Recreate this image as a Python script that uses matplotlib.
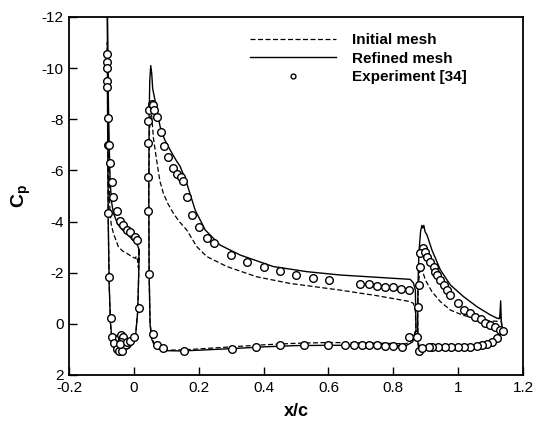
import matplotlib
matplotlib.use('Agg')
import matplotlib.pyplot as plt

plt.rcParams['font.family'] = ['Liberation Sans', 'DejaVu Sans']
plt.rcParams['mathtext.fontset'] = 'custom'
plt.rcParams['mathtext.rm'] = 'Liberation Sans'
plt.rcParams['mathtext.bf'] = 'Liberation Sans:bold'

# ---- computed Cp, initial mesh (dashed) ----
slat_x_init = [0.016, 0.014, 0.011, 0.008, 0.004, -0.005, -0.022, -0.035, -0.048, -0.063, -0.070,
               -0.074, -0.077, -0.079, -0.082, -0.081, -0.079, -0.076, -0.072, -0.066, -0.058,
               -0.045, -0.030, -0.015, -0.005, 0.005, 0.012, 0.015, 0.016]
slat_cp_init = [-2.9, -2.2, -2.5, -2.65, -2.56, -2.62, -2.76, -2.85, -3.02, -3.54, -3.9,
                -4.5, -6.0, -8.0, -11.0, -8.0, -4.0, -1.5, 0.0, 0.8, 1.0,
                1.05, 1.02, 0.95, 0.8, 0.5, -0.5, -2.0, -2.9]

main_x_init = [0.870, 0.868, 0.86, 0.84, 0.7, 0.6, 0.5, 0.4, 0.3, 0.2, 0.15, 0.1, 0.08, 0.065,
               0.055, 0.05, 0.047, 0.046, 0.048, 0.052, 0.056, 0.06, 0.07, 0.08, 0.091, 0.105,
               0.122, 0.14, 0.163, 0.194, 0.225, 0.287, 0.379, 0.482, 0.636, 0.75, 0.852,
               0.862, 0.868, 0.870]
main_cp_init = [0.3, 0.3, 0.6, 0.78, 0.74, 0.73, 0.76, 0.82, 0.9, 0.98, 1.02, 1.03, 0.98, 0.85,
                0.5, 0.0, -2.0, -5.0, -7.5, -8.5, -8.0, -7.3, -6.41, -5.6, -5.1, -4.7,
                -4.32, -4.0, -3.67, -3.02, -2.63, -2.24, -1.84, -1.58, -1.32, -1.1, -0.87,
                -0.8, -0.5, 0.3]

flap_x_init = [1.137, 1.12, 1.1, 1.05, 1.0, 0.95, 0.9, 0.88, 0.876, 0.875, 0.877, 0.882, 0.887,
               0.889, 0.899, 0.919, 0.945, 0.976, 1.012, 1.048, 1.089, 1.12, 1.13, 1.137]
flap_cp_init = [0.24, 0.5, 0.68, 0.85, 0.9, 0.93, 0.96, 1.0, 0.5, -0.5, -1.5, -2.1, -2.25,
                -2.11, -1.71, -1.26, -0.87, -0.54, -0.35, -0.22, -0.12, -0.1, -0.3, 0.24]

# ---- computed Cp, refined mesh (solid) ----
slat_x_ref = [0.016, 0.012, 0.005, -0.005, -0.02, -0.035, -0.05, -0.063, -0.068, -0.073, -0.076,
              -0.079, -0.082, -0.081, -0.079, -0.076, -0.072, -0.066, -0.058, -0.045, -0.030,
              -0.015, -0.005, 0.005, 0.012, 0.015, 0.016]
slat_cp_ref = [-2.9, -3.05, -3.2, -3.3, -3.5, -3.67, -3.9, -4.33, -4.7, -5.5, -7.0,
               -9.0, -13.0, -8.0, -4.0, -1.5, 0.0, 0.8, 1.0, 1.05, 1.02,
               0.95, 0.8, 0.5, -0.5, -2.0, -2.9]

main_x_ref = [0.870, 0.868, 0.86, 0.84, 0.7, 0.6, 0.5, 0.4, 0.3, 0.2, 0.15, 0.1, 0.08, 0.065,
              0.055, 0.05, 0.047, 0.046, 0.047, 0.049, 0.052, 0.055, 0.058, 0.065, 0.081, 0.095,
              0.112, 0.13, 0.143, 0.163, 0.189, 0.22, 0.266, 0.328, 0.43, 0.534, 0.636, 0.75,
              0.852, 0.862, 0.868, 0.870]
main_cp_ref = [0.3, 0.3, 0.7, 0.85, 0.84, 0.84, 0.85, 0.9, 0.97, 1.03, 1.06, 1.05, 1.0, 0.9,
               0.6, 0.0, -2.0, -5.0, -8.0, -9.5, -10.1, -9.8, -9.2, -8.75, -7.71, -7.2,
               -6.8, -6.4, -6.15, -5.5, -4.45, -3.67, -3.08, -2.69, -2.24, -2.04, -1.91, -1.82,
               -1.74, -1.6, -1.32, 0.3]

flap_x_ref = [1.137, 1.13, 1.12, 1.1, 1.08, 1.05, 1.0, 0.95, 0.91, 0.89, 0.88, 0.876, 0.875,
              0.876, 0.879, 0.884, 0.888, 0.891, 0.894, 0.898, 0.904, 0.919, 0.945, 0.976,
              1.017, 1.058, 1.099, 1.12, 1.128, 1.131, 1.133, 1.137]
flap_cp_ref = [0.24, 0.4, 0.55, 0.72, 0.8, 0.87, 0.92, 0.95, 0.97, 1.0, 1.05, 0.8, 0.0,
               -1.5, -2.8, -3.6, -3.85, -3.75, -3.85, -3.6, -3.47, -2.89, -2.11, -1.52,
               -1.06, -0.67, -0.35, -0.22, -0.2, -0.9, -0.1, 0.24]

# ---- experiment [34] ----
exp_x = [-0.082, -0.082, -0.082, -0.082, -0.082, -0.079, -0.079, -0.076, -0.074, -0.068,
         -0.063, -0.053, -0.043, -0.032, -0.022, -0.012, 0.004, 0.011,
         -0.081, -0.076, -0.070, -0.066, -0.060, -0.053, -0.045, -0.036,
         -0.045, -0.040, -0.037, -0.035, -0.039, -0.042, -0.022, -0.012, 0.001, 0.015,
         0.045, 0.048, 0.055, 0.060, 0.063, 0.070, 0.045, 0.045, 0.045, 0.048, 0.058,
         0.070, 0.091, 0.084, 0.093, 0.106, 0.122, 0.132, 0.145, 0.153, 0.165, 0.179,
         0.201, 0.227, 0.248, 0.300, 0.350, 0.402, 0.451, 0.501, 0.551, 0.602, 0.698,
         0.724, 0.750, 0.775, 0.799, 0.825, 0.849,
         0.155, 0.302, 0.377, 0.451, 0.525, 0.600, 0.652, 0.678, 0.703, 0.726, 0.750,
         0.775, 0.800, 0.827, 0.849,
         0.890, 0.883, 0.881, 0.880, 0.876, 0.873, 0.878, 0.899,
         0.904, 0.914, 0.924, 0.930, 0.935, 0.945, 0.955, 0.966, 0.976, 0.999, 1.019,
         1.038, 1.053, 1.069, 1.084, 1.099, 1.115, 1.130, 1.137,
         1.120, 1.105, 1.090, 1.074, 1.059, 1.038, 1.019, 0.999, 0.979, 0.959, 0.939,
         0.919, 0.909, 0.889]
exp_cp = [-10.55, -10.25, -9.99, -9.51, -9.25, -8.04, -7.0, -7.0, -6.28, -5.56,
          -4.95, -4.43, -4.03, -3.87, -3.67, -3.6, -3.41, -3.28,
          -4.35, -1.82, -0.22, 0.53, 0.76, 1.0, 1.05, 1.05,
          0.55, 0.45, 0.6, 0.5, 0.7, 0.8, 0.7, 0.66, 0.53, -0.61,
          -7.95, -8.36, -8.6, -8.56, -8.37, -8.1, -7.06, -5.73, -4.43, -1.95, 0.4,
          0.83, 0.96, -7.51, -6.97, -6.54, -6.08, -5.85, -5.76, -5.6, -4.95, -4.26,
          -3.78, -3.35, -3.15, -2.68, -2.42, -2.21, -2.05, -1.9, -1.8, -1.7, -1.55,
          -1.54, -1.48, -1.45, -1.43, -1.38, -1.32,
          1.08, 0.98, 0.89, 0.84, 0.82, 0.82, 0.83, 0.83, 0.83, 0.83, 0.84,
          0.85, 0.87, 0.89, 0.53,
          -2.95, -2.76, -2.24, -1.52, -0.67, 0.5, 1.05, -2.82,
          -2.63, -2.43, -2.24, -2.04, -1.91, -1.71, -1.52, -1.32, -1.13, -0.83, -0.54,
          -0.41, -0.28, -0.18, -0.05, 0.05, 0.14, 0.24, 0.27,
          0.57, 0.7, 0.77, 0.82, 0.86, 0.9, 0.92, 0.92, 0.92, 0.92, 0.92,
          0.92, 0.92, 0.96]

fig = plt.figure(figsize=(5.37, 4.29), dpi=100)
ax = fig.add_axes([0.1285, 0.1259, 0.8455, 0.8345])

dash = (0, (4, 2))
ax.plot(slat_x_init, slat_cp_init, color='black', lw=0.9, linestyle=dash, label='Initial mesh')
ax.plot(main_x_init, main_cp_init, color='black', lw=0.9, linestyle=dash)
ax.plot(flap_x_init, flap_cp_init, color='black', lw=0.9, linestyle=dash)

ax.plot(slat_x_ref, slat_cp_ref, color='black', lw=1.0, label='Refined mesh')
ax.plot(main_x_ref, main_cp_ref, color='black', lw=1.0)
ax.plot(flap_x_ref, flap_cp_ref, color='black', lw=1.0)

ax.plot(exp_x, exp_cp, linestyle='none', marker='o', markersize=5.5, markerfacecolor='white',
        markeredgecolor='black', markeredgewidth=1.0, label='Experiment [34]')

ax.set_xlim(-0.2, 1.2)
ax.set_ylim(2, -12)
ax.set_xticks([-0.2, 0, 0.2, 0.4, 0.6, 0.8, 1, 1.2])
ax.set_xticklabels(['-0.2', '0', '0.2', '0.4', '0.6', '0.8', '1', '1.2'])
ax.set_yticks([2, 0, -2, -4, -6, -8, -10, -12])
ax.set_yticklabels(['2', '0', '-2', '-4', '-6', '-8', '-10', '-12'])
ax.tick_params(direction='in', length=6, width=1, labelsize=11, pad=4)
for s in ax.spines.values():
    s.set_linewidth(1.3)

ax.set_xlabel('x/c', fontsize=13, fontweight='bold', labelpad=6)
ax.set_ylabel(r'$\mathbf{C}_\mathbf{p}$', fontsize=14, labelpad=6)

leg = ax.legend(loc='upper left', bbox_to_anchor=((250 - 69) / 454, 1 - (33 - 17) / 358),
                frameon=False, handlelength=5.6, handletextpad=1.1, labelspacing=0.3,
                borderpad=0, borderaxespad=0, prop={'size': 11, 'weight': 'bold'})
leg.legend_handles[2].set_markersize(3.5)

fig.savefig('out.png', dpi=100)
